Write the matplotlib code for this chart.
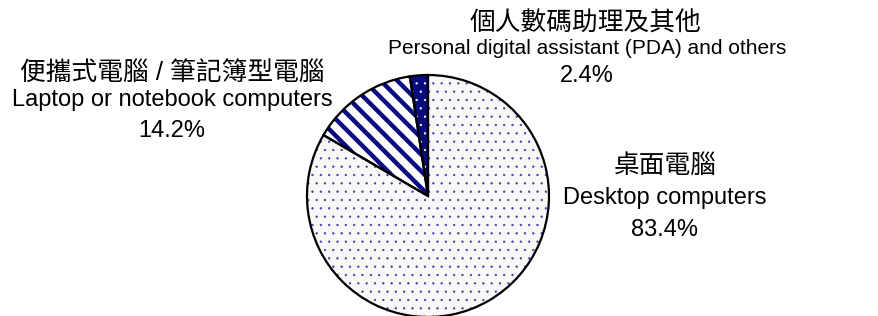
import matplotlib.pyplot as plt

plt.rcParams['font.family'] = ['Liberation Sans', 'Noto Sans CJK TC', 'DejaVu Sans']

# data
labels_zh = ['桌面電腦', '便攜式電腦 / 筆記簿型電腦', '個人數碼助理及其他']
labels_en = ['Desktop computers', 'Laptop or notebook computers',
             'Personal digital assistant (PDA) and others']
shares = [83.4, 14.2, 2.4]

W, H = 879, 316
fig = plt.figure(figsize=(W / 100, H / 100), dpi=100)

# pie centre and radius in pixels
cx, cy, r = 428, 196, 121
ax = fig.add_axes([(cx - r) / W, (H - cy - r) / H, 2 * r / W, 2 * r / H])

navy = '#0a0a80'
faces = ['#f8f8f8', 'white', navy]
hatches = ['..', '\\\\', '..']
hatch_cols = ['#3a3aa8', navy, 'white']
hatch_lw = [0.4, 3.2, 0.4]

# filled + hatched wedges (hatch colour comes from edgecolor)
wedges, _ = ax.pie(shares, startangle=90, counterclock=False, radius=1,
                   wedgeprops=dict(linewidth=0))
for w, fc, h, hc, lw in zip(wedges, faces, hatches, hatch_cols, hatch_lw):
    w.set_facecolor(fc)
    w.set_hatch(h)
    w.set_edgecolor(hc)
    w.set_linewidth(0)
    if hasattr(w, 'set_hatch_linewidth'):
        w.set_hatch_linewidth(lw)
    else:
        w._hatch_linewidth = lw

# black outlines on top
ax.pie(shares, startangle=90, counterclock=False, radius=1,
       wedgeprops=dict(facecolor='none', edgecolor='black', linewidth=1.6))
ax.set_xlim(-1, 1)
ax.set_ylim(-1, 1)
ax.set_aspect('equal')
ax.axis('off')

def put(x, y, s, fs=17):
    fig.text(x / W, 1 - y / H, s, ha='center', va='center', fontsize=fs, color='black')

zh_fs = 18.5
put(585, 24, labels_zh[2], zh_fs)
put(587, 49, labels_en[2], 15)
put(587, 76, '%.1f%%' % shares[2])

put(172, 74, labels_zh[1], zh_fs)
put(172, 100, labels_en[1])
put(172, 131, '%.1f%%' % shares[1])

put(665, 166, labels_zh[0], zh_fs)
put(665, 198, labels_en[0])
put(665, 230, '%.1f%%' % shares[0])

fig.savefig('out.png', dpi=100)
